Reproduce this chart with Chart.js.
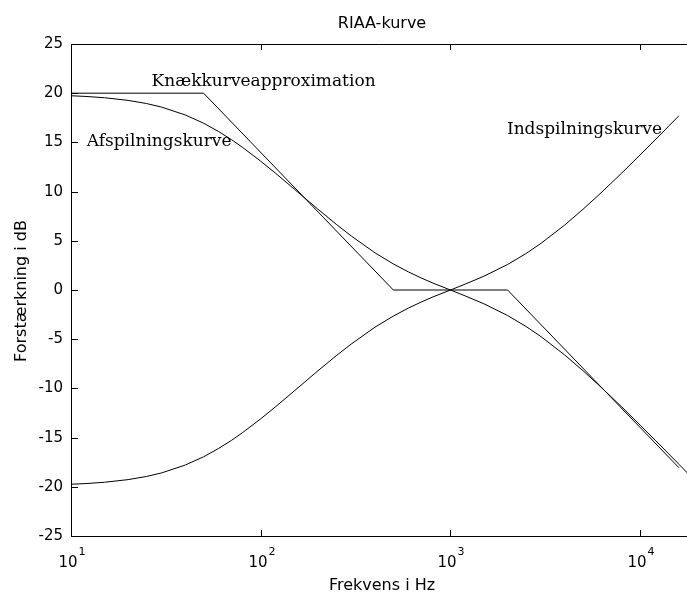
<!DOCTYPE html>
<html>
<head>
<meta charset="utf-8">
<script src="https://cdn.jsdelivr.net/npm/chart.js@4/dist/chart.umd.min.js"></script>
<style>
  html, body { margin: 0; padding: 0; background: #fff; }
  #wrap { width: 687px; height: 594px; }
</style>
</head>
<body>
<div id="wrap"><canvas id="c" width="687" height="594"></canvas></div>
<script>
/* RIAA-kurve: afspilnings-, indspilnings- og knækkurve, log frekvensakse */

const FREQ = [10, 12, 15, 20, 25, 30, 40, 50, 60, 70, 80, 100, 120, 150, 200, 250, 300, 400, 500,
  600, 700, 800, 1000, 1200, 1500, 2000, 2500, 3000, 4000, 5000, 6000, 7000, 8000, 10000,
  12000, 14000, 16000, 18000, 20000];

const PLAYBACK = [19.74, 19.67, 19.54, 19.27, 18.95, 18.59, 17.79, 16.95, 16.10, 15.29, 14.51,
  13.09, 11.85, 10.27, 8.22, 6.68, 5.49, 3.78, 2.65, 1.84, 1.23, 0.74, 0, -0.61, -1.40, -2.59,
  -3.70, -4.74, -6.60, -8.21, -9.60, -10.82, -11.89, -13.74, -15.26, -16.57, -17.71, -18.72, -19.62];

const REC_FREQ = [10, 12, 15, 20, 25, 30, 40, 50, 60, 70, 80, 100, 120, 150, 200, 250, 300, 400, 500,
  600, 700, 800, 1000, 1200, 1500, 2000, 2500, 3000, 4000, 5000, 6000, 7000, 8000, 10000,
  12000, 14000, 16000];

const RECORDING = [-19.74, -19.67, -19.54, -19.27, -18.95, -18.59, -17.79, -16.95, -16.10, -15.29,
  -14.51, -13.09, -11.85, -10.27, -8.22, -6.68, -5.49, -3.78, -2.65, -1.84, -1.23, -0.74, 0, 0.61,
  1.40, 2.59, 3.70, 4.74, 6.60, 8.21, 9.60, 10.82, 11.89, 13.74, 15.26, 16.57, 17.71];

const KNEE_FREQ = [10, 50, 500, 2000, 16000];
const KNEE_DB = [20, 20, 0, 0, -18.06];

const X_TICKS = [10, 100, 1000, 10000];
const X_EXP = ["1", "2", "3", "4"];
const Y_TICKS = [-25, -20, -15, -10, -5, 0, 5, 10, 15, 20, 25];

const X_MIN = 10, X_MAX = 17650;
const Y_MIN = -25, Y_MAX = 25;

const SANS = "'DejaVu Sans', sans-serif";
const SERIF = "'DejaVu Serif', serif";

function pts(xs, ys) { return xs.map((x, i) => ({ x, y: ys[i] })); }

function line(data) {
  return { data, borderColor: "#000", borderWidth: 1, pointRadius: 0, showLine: true, tension: 0, fill: false };
}

// annotations (text), placed in data space (left edge, baseline)
const NOTES = [
  { text: "Knækkurveapproximation", x: 26.6, y: 20.75 },
  { text: "Afspilningskurve", x: 12.1, y: 14.6 },
  { text: "Indspilningskurve", x: 1985, y: 15.9 },
];

const decor = {
  id: "decor",
  afterDraw(chart) {
    const { ctx, chartArea: a, scales } = chart;
    const xs = scales.x, ys = scales.y;
    ctx.save();
    ctx.strokeStyle = "#000";
    ctx.fillStyle = "#000";
    ctx.lineWidth = 1;

    // frame (right edge lies outside the picture)
    ctx.beginPath();
    ctx.moveTo(a.left + 0.5, a.top + 0.5); ctx.lineTo(a.right, a.top + 0.5);
    ctx.moveTo(a.left + 0.5, a.top); ctx.lineTo(a.left + 0.5, a.bottom + 0.5);
    ctx.moveTo(a.left, a.bottom + 0.5); ctx.lineTo(a.right, a.bottom + 0.5);
    ctx.stroke();

    // y ticks + labels
    ctx.font = "15px " + SANS;
    ctx.textAlign = "right";
    ctx.textBaseline = "middle";
    Y_TICKS.forEach(v => {
      const py = Math.round(ys.getPixelForValue(v)) + 0.5;
      ctx.beginPath();
      ctx.moveTo(a.left, py); ctx.lineTo(a.left + 7, py);
      ctx.stroke();
      ctx.fillText(String(v), a.left - 8, py);
    });

    // x ticks + labels with superscript
    X_TICKS.forEach((v, i) => {
      const px = Math.round(xs.getPixelForValue(v)) + 0.5;
      ctx.beginPath();
      ctx.moveTo(px, a.bottom); ctx.lineTo(px, a.bottom - 6);
      ctx.moveTo(px, a.top); ctx.lineTo(px, a.top + 6);
      ctx.stroke();
      ctx.font = "15px " + SANS;
      const wBase = ctx.measureText("10").width;
      ctx.font = "11px " + SANS;
      const wExp = ctx.measureText(X_EXP[i]).width;
      const x0 = px - (wBase + wExp) / 2;
      ctx.textAlign = "left";
      ctx.textBaseline = "alphabetic";
      ctx.font = "15px " + SANS;
      ctx.fillText("10", x0, 567);
      ctx.font = "11px " + SANS;
      ctx.fillText(X_EXP[i], x0 + wBase + 1, 555);
    });

    // title & axis labels
    ctx.font = "16px " + SANS;
    ctx.textAlign = "center";
    ctx.textBaseline = "alphabetic";
    ctx.fillText("RIAA-kurve", 382, 28);
    ctx.fillText("Frekvens i Hz", 382, 590);
    ctx.save();
    ctx.translate(26, 291);
    ctx.rotate(-Math.PI / 2);
    ctx.fillText("Forstærkning i dB", 0, 0);
    ctx.restore();

    // curve names
    ctx.font = "17px " + SERIF;
    ctx.textAlign = "left";
    NOTES.forEach(n => {
      ctx.fillText(n.text, xs.getPixelForValue(n.x), ys.getPixelForValue(n.y));
    });
    ctx.restore();
  },
};

new Chart(document.getElementById("c"), {
  type: "scatter",
  data: {
    datasets: [
      line(pts(FREQ, PLAYBACK)),
      line(pts(REC_FREQ, RECORDING)),
      line(pts(KNEE_FREQ, KNEE_DB)),
    ],
  },
  options: {
    responsive: false,
    animation: false,
    layout: { padding: { left: 71, top: 44, right: 0, bottom: 58 } },
    plugins: { legend: { display: false }, tooltip: { enabled: false } },
    scales: {
      x: { type: "logarithmic", min: X_MIN, max: X_MAX, display: false },
      y: { type: "linear", min: Y_MIN, max: Y_MAX, display: false },
    },
  },
  plugins: [decor],
});
</script>
</body>
</html>
